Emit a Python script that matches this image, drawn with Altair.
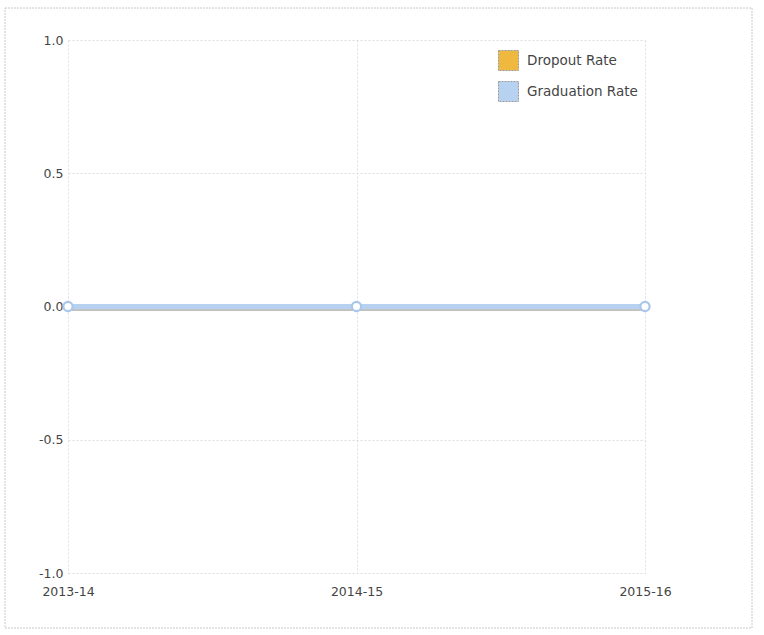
import altair as alt
import pandas as pd

# School years and rates for each series
years = ["2013-14", "2014-15", "2015-16"]
dropout_rate = [0.0, 0.0, 0.0]
graduation_rate = [0.0, 0.0, 0.0]
series_names = ["Dropout Rate", "Graduation Rate"]
series_colors = ["#EFB83E", "#B7D1F0"]
swatch_edges = ["#9a9a9a", "#9a9a9a"]
y_ticks = [-1.0, -0.5, 0.0, 0.5, 1.0]

rows = []
for name, vals in zip(series_names, [dropout_rate, graduation_rate]):
    for yr, v in zip(years, vals):
        rows.append({"year": yr, "series": name, "value": v})
df = pd.DataFrame(rows)

FONT = "DejaVu Sans"
W, H = 577, 533

x_enc = alt.X(
    "year:O",
    sort=years,
    scale=alt.Scale(type="point", padding=0),
    axis=alt.Axis(
        title=None, domain=False, ticks=False, labelAngle=0,
        labelPadding=12, labelFontSize=12.5, labelColor="#444", labelFont=FONT,
        grid=True, gridColor="#dedede", gridDash=[2, 2], labelFlush=False,
    ),
)
y_enc = alt.Y(
    "value:Q",
    scale=alt.Scale(domain=[-1, 1], nice=False, zero=False),
    axis=alt.Axis(
        title=None, domain=False, ticks=False, values=y_ticks,
        labelExpr="(datum.value < 0 ? '-' : '') + format(abs(datum.value), '.1f')",
        labelPadding=5, labelFontSize=12.5, labelColor="#444", labelFont=FONT,
        grid=True, gridColor="#dedede", gridDash=[2, 2],
    ),
)

legend_props = dict(
    title=None, orient="none", legendX=430, legendY=10,
    symbolType="square", symbolSize=400, symbolStrokeWidth=1,
    symbolDash=[2, 1], symbolOpacity=1,
    labelFont=FONT, labelFontSize=13.5, labelColor="#444",
    labelOffset=8, rowPadding=6, padding=0,
)

base = alt.Chart(df).encode(x=x_enc, y=y_enc)

# Tiny squares carry the legend: series fill with a dashed grey edge
legend_marks = base.mark_square(size=1, opacity=1, strokeWidth=1).encode(
    fill=alt.Fill(
        "series:N", scale=alt.Scale(domain=series_names, range=series_colors),
        legend=alt.Legend(**legend_props),
    ),
    stroke=alt.Stroke(
        "series:N", scale=alt.Scale(domain=series_names, range=swatch_edges),
        legend=alt.Legend(**legend_props),
    ),
)

shadow = base.mark_line(strokeWidth=5, color="#a8a8a8", opacity=0.45, yOffset=2).encode(
    detail="series:N"
)

lines = base.mark_line(strokeWidth=5).encode(
    color=alt.Color(
        "series:N", scale=alt.Scale(domain=series_names, range=series_colors), legend=None
    ),
    order=alt.Order("series:N"),
)

points = base.transform_filter(alt.datum.series == "Graduation Rate").mark_point(
    filled=True, fill="white", stroke="#A9C6EC", strokeWidth=2.2, size=85, opacity=1
)

frame = alt.Chart(alt.Data(values=[{}])).mark_rect(
    filled=False, stroke="#c8c8c8", strokeWidth=1, strokeDash=[2, 1]
).encode(
    x=alt.value(-63), x2=alt.value(684), y=alt.value(-32), y2=alt.value(588)
)

chart = alt.layer(frame, legend_marks, shadow, lines, points).properties(
    width=W, height=H,
    padding={"left": 68, "top": 40, "right": 119, "bottom": 62},
    autosize=alt.AutoSizeParams(type="none"),
    background="white",
).configure_view(stroke=None)

chart.save("out.html", embed_options={"renderer": "svg", "actions": False})
